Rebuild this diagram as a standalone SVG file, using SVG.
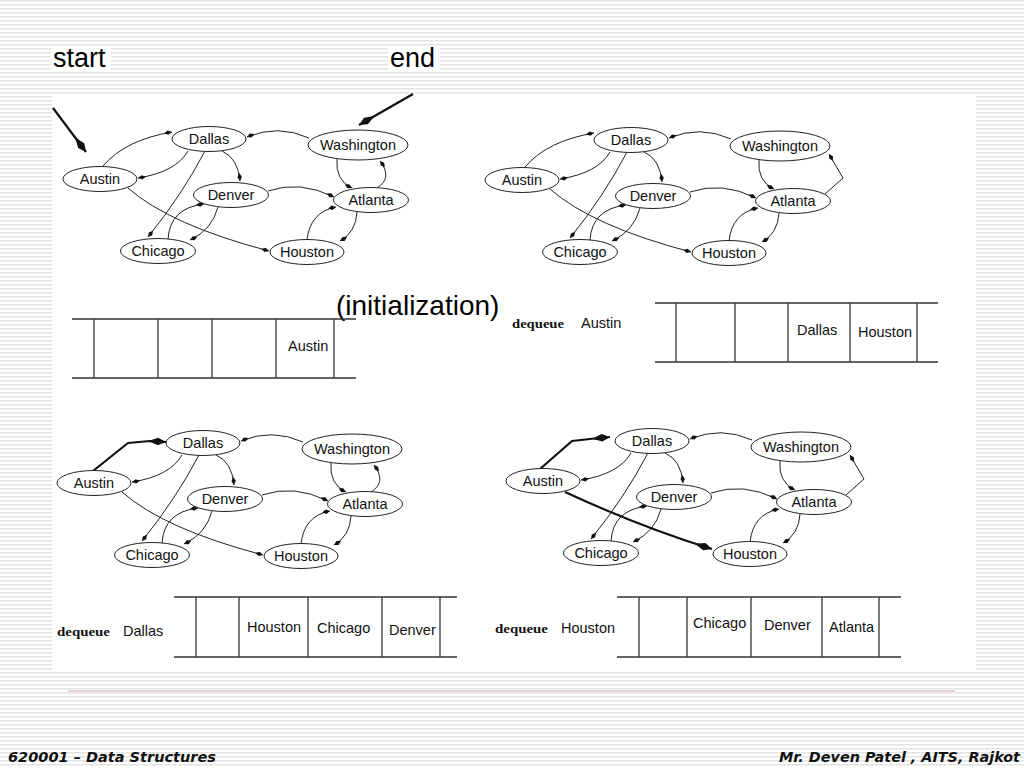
<svg xmlns="http://www.w3.org/2000/svg" width="1024" height="768" viewBox="0 0 1024 768">
<defs>
<pattern id="stripes" width="8" height="4" patternUnits="userSpaceOnUse"><rect width="8" height="4" fill="#ffffff"/><rect y="0" width="8" height="1.5" fill="#e3e3e3"/></pattern>
<marker id="ah" viewBox="-9 -3 10 6" refX="0" refY="0" markerWidth="10" markerHeight="6" markerUnits="userSpaceOnUse" orient="auto"><path d="M0,0 L-4,-2.2 L-8,0 L-4,2.2 Z" fill="#111"/></marker>
<marker id="bh" viewBox="-19 -4 20 8" refX="0" refY="0" markerWidth="20" markerHeight="8" markerUnits="userSpaceOnUse" orient="auto"><path d="M0,0 L-8,-3.8 L-18,0 L-8,3.8 Z" fill="#111"/></marker>
</defs>
<style>
.node ellipse{fill:#fff;stroke:#222;stroke-width:1}
.node text{font-family:"Liberation Sans",Arial,sans-serif;font-size:14.5px;fill:#111;text-anchor:middle}
.edge{fill:none;stroke:#222;stroke-width:1;marker-end:url(#ah)}
.thick{fill:none;stroke:#111;stroke-width:2.2;marker-end:url(#bh)}
.q line{stroke:#333;stroke-width:1.3}
.cell{font-family:"Liberation Sans",Arial,sans-serif;font-size:14.5px;fill:#111}
.title{font-family:"Liberation Sans",Arial,sans-serif;font-size:27px;fill:#000}
.deq{font-family:"Liberation Serif","Times New Roman",serif;font-weight:bold;font-size:12px;fill:#111}
.foot{font-family:"DejaVu Sans",Verdana,sans-serif;font-weight:bold;font-style:italic;font-size:14px;fill:#111}
</style>
<rect width="1024" height="768" fill="url(#stripes)"/>
<rect x="52" y="96" width="924" height="576" fill="#fff"/>
<rect x="51" y="46" width="60" height="26" fill="#fff"/>
<rect x="388" y="46" width="52" height="26" fill="#fff"/>
<line x1="68" y1="691" x2="955" y2="691" stroke="#c9a9a9" stroke-width="1"/>
<text class="title" x="53" y="67">start</text>
<text class="title" x="390" y="67">end</text>
<text class="title" x="336" y="315" style="font-size:28px">(initialization)</text>
<text class="foot" x="8" y="762" textLength="208" lengthAdjust="spacingAndGlyphs">620001 – Data Structures</text>
<text class="foot" x="1020" y="762" text-anchor="end" textLength="241" lengthAdjust="spacingAndGlyphs">Mr. Deven Patel , AITS, Rajkot</text>

<g id="connectors">
 <g id="edges-start-end">
  <line class="thick" x1="53" y1="108" x2="86" y2="152"/>
  <line class="thick" x1="413" y1="94" x2="359" y2="125"/>
 </g>
 <g id="edges-1">
  <path class="edge" d="M103,166 Q125,140 172,132"/>
  <path class="edge" d="M188,151 Q176,172 138,178"/>
  <path class="edge" d="M222,151 Q238,158 240,181"/>
  <path class="edge" d="M205,151 Q182,195 148,237"/>
  <path class="edge" d="M309,138 Q278,124 247,137"/>
  <path class="edge" d="M337,159 Q335,180 352,188"/>
  <path class="edge" d="M377,188 Q393,178 380,161"/>
  <path class="edge" d="M268,191 Q300,180 334,197"/>
  <path class="edge" d="M168,239 Q170,208 204,204"/>
  <path class="edge" d="M218,207 Q212,230 190,240"/>
  <path class="edge" d="M128,188 Q170,225 269,251"/>
  <path class="edge" d="M307,240 Q310,212 336,207"/>
  <path class="edge" d="M357,212 Q356,232 340,241"/>
 </g>
 <g id="edges-2" transform="translate(422,1)">
  <path class="edge" d="M103,166 Q125,140 172,132"/>
  <path class="edge" d="M188,151 Q176,172 138,178"/>
  <path class="edge" d="M222,151 Q238,158 240,181"/>
  <path class="edge" d="M205,151 Q182,195 148,237"/>
  <path class="edge" d="M309,138 Q278,124 247,137"/>
  <path class="edge" d="M337,159 Q335,180 352,188"/>
  <path class="edge" d="M403,193 L421,177 L407,153"/>
  <path class="edge" d="M268,191 Q300,180 334,197"/>
  <path class="edge" d="M168,239 Q170,208 204,204"/>
  <path class="edge" d="M218,207 Q212,230 190,240"/>
  <path class="edge" d="M128,188 Q170,225 269,251"/>
  <path class="edge" d="M307,240 Q310,212 336,207"/>
  <path class="edge" d="M357,212 Q356,232 340,241"/>
 </g>
 <g id="edges-3" transform="translate(-6,304)">
  <path class="thick" d="M99,167 L134,139 L156,137 L172,138"/>
  <path class="edge" d="M188,151 Q176,172 138,178"/>
  <path class="edge" d="M222,151 Q238,158 240,181"/>
  <path class="edge" d="M205,151 Q182,195 148,237"/>
  <path class="edge" d="M309,138 Q278,124 247,137"/>
  <path class="edge" d="M337,159 Q335,180 352,188"/>
  <path class="edge" d="M377,188 Q393,178 380,161"/>
  <path class="edge" d="M268,191 Q300,180 334,197"/>
  <path class="edge" d="M168,239 Q170,208 204,204"/>
  <path class="edge" d="M218,207 Q212,230 190,240"/>
  <path class="edge" d="M128,188 Q170,225 269,251"/>
  <path class="edge" d="M307,240 Q310,212 336,207"/>
  <path class="edge" d="M357,212 Q356,232 340,241"/>
 </g>
 <g id="edges-4" transform="translate(443,302)">
  <path class="thick" d="M97,167 L129,139 L147,137 L167,135"/>
  <path class="edge" d="M188,151 Q176,172 138,178"/>
  <path class="edge" d="M222,151 Q238,158 240,181"/>
  <path class="edge" d="M205,151 Q182,195 148,237"/>
  <path class="edge" d="M309,138 Q278,124 247,137"/>
  <path class="edge" d="M337,159 Q335,180 352,188"/>
  <path class="edge" d="M403,193 L421,177 L407,153"/>
  <path class="edge" d="M268,191 Q300,180 334,197"/>
  <path class="edge" d="M168,239 Q170,208 204,204"/>
  <path class="edge" d="M218,207 Q212,230 190,240"/>
  <path class="thick" d="M122,190 Q200,226 269,247"/>
  <path class="edge" d="M307,240 Q310,212 336,207"/>
  <path class="edge" d="M357,212 Q356,232 340,241"/>
 </g>
</g>

<g id="graph-1">
 <g id="g1-dallas" class="node"><ellipse cx="209" cy="139" rx="37" ry="12.5"/><text x="209" y="144">Dallas</text></g>
 <g id="g1-washington" class="node"><ellipse cx="358" cy="145" rx="50" ry="15"/><text x="358" y="150">Washington</text></g>
 <g id="g1-austin" class="node"><ellipse cx="100" cy="179" rx="37" ry="12.5"/><text x="100" y="184">Austin</text></g>
 <g id="g1-denver" class="node"><ellipse cx="231" cy="195" rx="37.5" ry="12.5"/><text x="231" y="200">Denver</text></g>
 <g id="g1-atlanta" class="node"><ellipse cx="371" cy="200" rx="37.5" ry="12.5"/><text x="371" y="205">Atlanta</text></g>
 <g id="g1-chicago" class="node"><ellipse cx="158" cy="251" rx="37.5" ry="12.5"/><text x="158" y="256">Chicago</text></g>
 <g id="g1-houston" class="node"><ellipse cx="307" cy="252" rx="37" ry="12.5"/><text x="307" y="257">Houston</text></g>
</g>
<g id="graph-2" transform="translate(422,1)">
 <g id="g2-dallas" class="node"><ellipse cx="209" cy="139" rx="37" ry="12.5"/><text x="209" y="144">Dallas</text></g>
 <g id="g2-washington" class="node"><ellipse cx="358" cy="145" rx="50" ry="15"/><text x="358" y="150">Washington</text></g>
 <g id="g2-austin" class="node"><ellipse cx="100" cy="179" rx="37" ry="12.5"/><text x="100" y="184">Austin</text></g>
 <g id="g2-denver" class="node"><ellipse cx="231" cy="195" rx="37.5" ry="12.5"/><text x="231" y="200">Denver</text></g>
 <g id="g2-atlanta" class="node"><ellipse cx="371" cy="200" rx="37.5" ry="12.5"/><text x="371" y="205">Atlanta</text></g>
 <g id="g2-chicago" class="node"><ellipse cx="158" cy="251" rx="37.5" ry="12.5"/><text x="158" y="256">Chicago</text></g>
 <g id="g2-houston" class="node"><ellipse cx="307" cy="252" rx="37" ry="12.5"/><text x="307" y="257">Houston</text></g>
</g>
<g id="graph-3" transform="translate(-6,304)">
 <g id="g3-dallas" class="node"><ellipse cx="209" cy="139" rx="37" ry="12.5"/><text x="209" y="144">Dallas</text></g>
 <g id="g3-washington" class="node"><ellipse cx="358" cy="145" rx="50" ry="15"/><text x="358" y="150">Washington</text></g>
 <g id="g3-austin" class="node"><ellipse cx="100" cy="179" rx="37" ry="12.5"/><text x="100" y="184">Austin</text></g>
 <g id="g3-denver" class="node"><ellipse cx="231" cy="195" rx="37.5" ry="12.5"/><text x="231" y="200">Denver</text></g>
 <g id="g3-atlanta" class="node"><ellipse cx="371" cy="200" rx="37.5" ry="12.5"/><text x="371" y="205">Atlanta</text></g>
 <g id="g3-chicago" class="node"><ellipse cx="158" cy="251" rx="37.5" ry="12.5"/><text x="158" y="256">Chicago</text></g>
 <g id="g3-houston" class="node"><ellipse cx="307" cy="252" rx="37" ry="12.5"/><text x="307" y="257">Houston</text></g>
</g>
<g id="graph-4" transform="translate(443,302)">
 <g id="g4-dallas" class="node"><ellipse cx="209" cy="139" rx="37" ry="12.5"/><text x="209" y="144">Dallas</text></g>
 <g id="g4-washington" class="node"><ellipse cx="358" cy="145" rx="50" ry="15"/><text x="358" y="150">Washington</text></g>
 <g id="g4-austin" class="node"><ellipse cx="100" cy="179" rx="37" ry="12.5"/><text x="100" y="184">Austin</text></g>
 <g id="g4-denver" class="node"><ellipse cx="231" cy="195" rx="37.5" ry="12.5"/><text x="231" y="200">Denver</text></g>
 <g id="g4-atlanta" class="node"><ellipse cx="371" cy="200" rx="37.5" ry="12.5"/><text x="371" y="205">Atlanta</text></g>
 <g id="g4-chicago" class="node"><ellipse cx="158" cy="251" rx="37.5" ry="12.5"/><text x="158" y="256">Chicago</text></g>
 <g id="g4-houston" class="node"><ellipse cx="307" cy="252" rx="37" ry="12.5"/><text x="307" y="257">Houston</text></g>
</g>

<g id="queue-1" class="q">
 <line x1="72" y1="319" x2="356" y2="319"/><line x1="72" y1="378" x2="356" y2="378"/>
 <line x1="94" y1="319" x2="94" y2="378"/><line x1="158" y1="319" x2="158" y2="378"/><line x1="212" y1="319" x2="212" y2="378"/><line x1="276" y1="319" x2="276" y2="378"/><line x1="334" y1="319" x2="334" y2="378"/>
 <text class="cell" x="288" y="351">Austin</text>
</g>
<g id="queue-2" class="q">
 <line x1="655" y1="303" x2="938" y2="303"/><line x1="655" y1="362" x2="938" y2="362"/>
 <line x1="676" y1="303" x2="676" y2="362"/><line x1="735" y1="303" x2="735" y2="362"/><line x1="788" y1="303" x2="788" y2="362"/><line x1="850" y1="303" x2="850" y2="362"/><line x1="917" y1="303" x2="917" y2="362"/>
 <text class="cell" x="797" y="335">Dallas</text>
 <text class="cell" x="858" y="337">Houston</text>
 <text class="deq" x="512" y="328" textLength="52" lengthAdjust="spacingAndGlyphs">dequeue</text>
 <text class="cell" x="581" y="328">Austin</text>
</g>
<g id="queue-3" class="q">
 <line x1="174" y1="597" x2="457" y2="597"/><line x1="174" y1="657" x2="457" y2="657"/>
 <line x1="196" y1="597" x2="196" y2="657"/><line x1="239" y1="597" x2="239" y2="657"/><line x1="308" y1="597" x2="308" y2="657"/><line x1="382" y1="597" x2="382" y2="657"/><line x1="440" y1="597" x2="440" y2="657"/>
 <text class="cell" x="247" y="632">Houston</text>
 <text class="cell" x="317" y="633">Chicago</text>
 <text class="cell" x="389" y="635">Denver</text>
 <text class="deq" x="57" y="636" textLength="53" lengthAdjust="spacingAndGlyphs">dequeue</text>
 <text class="cell" x="123" y="636">Dallas</text>
</g>
<g id="queue-4" class="q">
 <line x1="617" y1="597" x2="901" y2="597"/><line x1="617" y1="657" x2="901" y2="657"/>
 <line x1="639" y1="597" x2="639" y2="657"/><line x1="687" y1="597" x2="687" y2="657"/><line x1="751" y1="597" x2="751" y2="657"/><line x1="822" y1="597" x2="822" y2="657"/><line x1="879" y1="597" x2="879" y2="657"/>
 <text class="cell" x="693" y="628">Chicago</text>
 <text class="cell" x="764" y="630">Denver</text>
 <text class="cell" x="829" y="632">Atlanta</text>
 <text class="deq" x="495" y="633" textLength="53" lengthAdjust="spacingAndGlyphs">dequeue</text>
 <text class="cell" x="561" y="633">Houston</text>
</g>
</svg>
